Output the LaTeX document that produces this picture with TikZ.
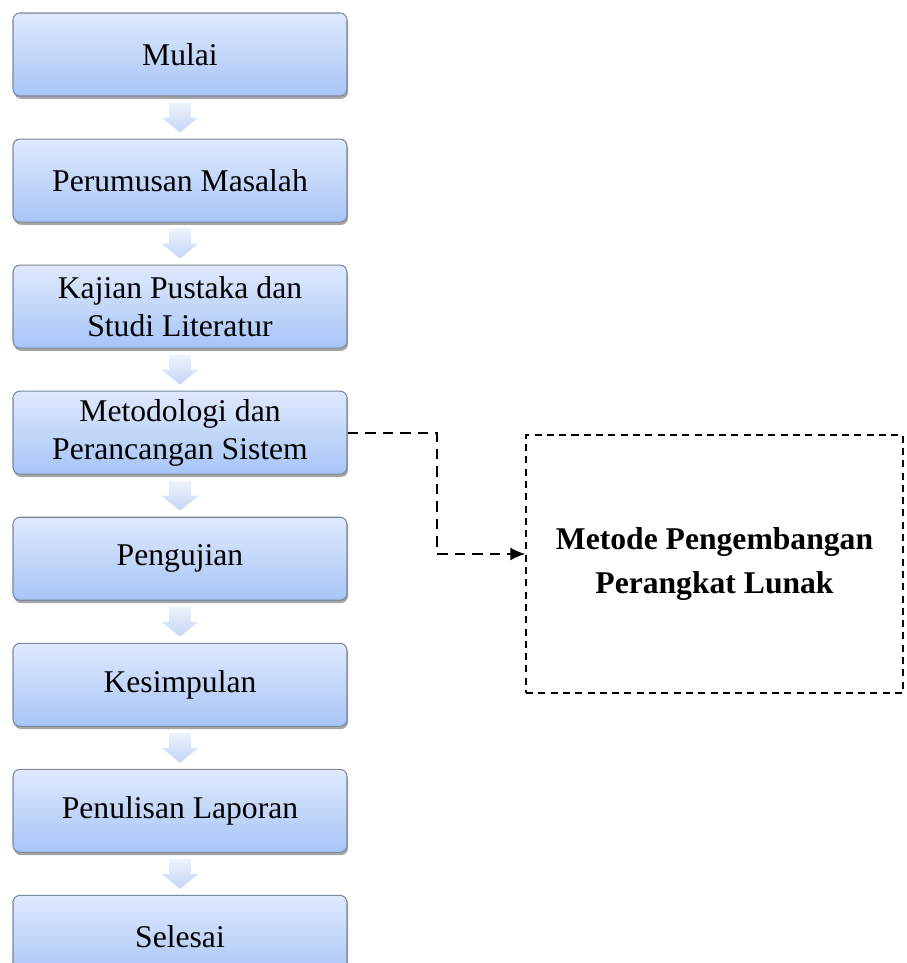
\documentclass[tikz,border=0pt]{standalone}
\definecolor{boxtop}{RGB}{224, 233, 252}
\definecolor{boxbottom}{RGB}{166, 197, 247}
\definecolor{boxline}{RGB}{125, 135, 155}
\definecolor{arrowtop}{RGB}{238, 243, 253}
\definecolor{arrowbottom}{RGB}{196, 213, 246}
\usepackage{fontspec}
\setmainfont{Liberation Serif}
\usepackage{tikz}
\usetikzlibrary{arrows.meta, positioning, calc, shadows}
\tikzset{
    stepbox/.style={draw=boxline, line width=0.6pt, rectangle, rounded corners=4pt,
        minimum width=6.68cm, minimum height=1.66cm, align=center,
        font=\fontsize{18}{21.6}\selectfont, top color=boxtop, bottom color=boxbottom,
        drop shadow={shadow xshift=0.6pt, shadow yshift=-1.6pt, fill=black, opacity=0.35}},
    flowarrow/.pic={
        \path[top color=arrowtop, bottom color=arrowbottom]
            (-0.22,0.3) -- (0.22,0.3) -- (0.22,0) -- (0.37,0) -- (0,-0.3)
            -- (-0.37,0) -- (-0.22,0) -- cycle;
    },
    methodbox/.style={draw, dashed, dash pattern=on 4pt off 3pt, line width=0.8pt,
        rectangle, minimum width=7.54cm, minimum height=5.16cm, align=center,
        font=\bfseries\fontsize{18}{25}\selectfont},
    linkarrow/.style={dash pattern=on 6pt off 4pt, line width=1.1pt, -{Latex[length=3mm, width=2.6mm]}},
}
\begin{document}
\begin{tikzpicture}
    \useasboundingbox (0,0) rectangle (18.14,-19.26);
    % alur penelitian
    \node[stepbox] (mulai) at (3.6,-1.09) {Mulai};
    \node[stepbox, below=0.84cm of mulai] (rumusan) {Perumusan Masalah};
    \node[stepbox, below=0.84cm of rumusan] (kajian) {Kajian Pustaka dan\\ Studi Literatur};
    \node[stepbox, below=0.84cm of kajian] (metodologi) {Metodologi dan\\ Perancangan Sistem};
    \node[stepbox, below=0.84cm of metodologi] (pengujian) {Pengujian};
    \node[stepbox, below=0.84cm of pengujian] (kesimpulan) {Kesimpulan};
    \node[stepbox, below=0.84cm of kesimpulan] (laporan) {Penulisan Laporan};
    \node[stepbox, below=0.84cm of laporan] (selesai) {Selesai};

    \pic at ($(mulai.south)!0.5!(rumusan.north)$) {flowarrow};
    \pic at ($(rumusan.south)!0.5!(kajian.north)$) {flowarrow};
    \pic at ($(kajian.south)!0.5!(metodologi.north)$) {flowarrow};
    \pic at ($(metodologi.south)!0.5!(pengujian.north)$) {flowarrow};
    \pic at ($(pengujian.south)!0.5!(kesimpulan.north)$) {flowarrow};
    \pic at ($(kesimpulan.south)!0.5!(laporan.north)$) {flowarrow};
    \pic at ($(laporan.south)!0.5!(selesai.north)$) {flowarrow};

    % metode pengembangan
    \node[methodbox] (metode) at (14.29,-11.28) {Metode Pengembangan\\ Perangkat Lunak};
    \coordinate (belok) at (8.74,-11.08);
    \draw[linkarrow] (metodologi.east) -| (belok) -- (belok -| metode.west);
\end{tikzpicture}
\end{document}
